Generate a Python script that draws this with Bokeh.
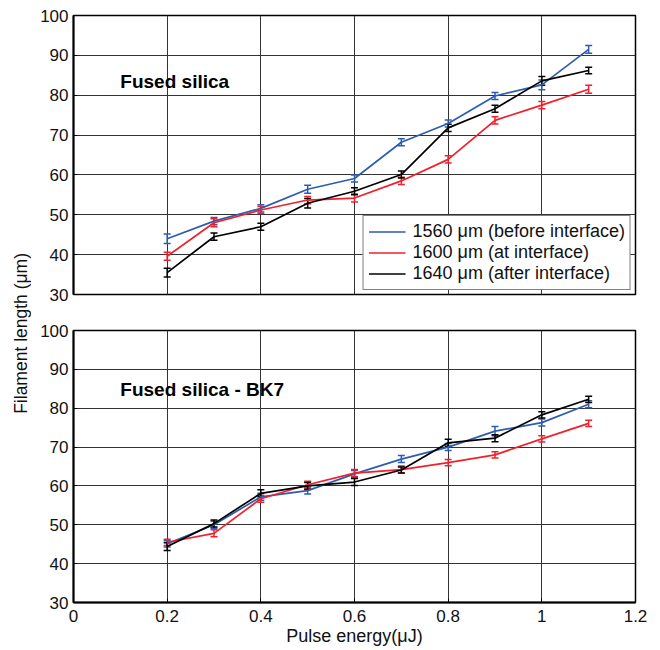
from bokeh.plotting import figure
from bokeh.models import (Whisker, TeeHead, ColumnDataSource, Label, Legend,
                          LegendItem, Div, FixedTicker, Range1d)
from bokeh.layouts import row, column
from bokeh.embed import file_html
from bokeh.resources import INLINE

# ---------------- data ----------------
energy = [0.2, 0.3, 0.4, 0.5, 0.6, 0.7, 0.8, 0.9, 1.0, 1.1]

# Top panel: Fused silica
fs_1560 = [44.0, 48.4, 51.6, 56.4, 59.1, 68.2, 72.9, 79.8, 82.6, 91.5]
fs_1560_err = [1.2, 0.9, 0.9, 1.0, 0.9, 0.9, 0.9, 0.9, 1.2, 1.0]
fs_1600 = [39.6, 48.0, 51.2, 53.7, 54.2, 58.5, 63.9, 73.7, 77.5, 81.5]
fs_1600_err = [1.0, 1.0, 0.9, 0.9, 1.0, 0.9, 0.9, 0.9, 0.9, 1.0]
fs_1640 = [35.5, 44.5, 47.0, 52.9, 55.9, 60.1, 71.8, 76.6, 83.6, 86.2]
fs_1640_err = [1.1, 0.9, 0.9, 1.2, 0.9, 0.9, 0.9, 0.9, 1.1, 0.8]

# Bottom panel: Fused silica - BK7
bk_1560 = [45.1, 50.0, 57.2, 58.8, 63.1, 66.9, 70.0, 74.1, 76.3, 81.0]
bk_1560_err = [0.8, 0.9, 0.9, 0.9, 0.9, 0.9, 0.9, 1.2, 0.9, 0.9]
bk_1600 = [45.5, 47.8, 56.7, 60.3, 63.3, 64.2, 66.0, 68.0, 72.1, 76.1]
bk_1600_err = [0.8, 0.9, 0.9, 0.9, 0.9, 0.9, 0.8, 0.8, 0.8, 0.8]
bk_1640 = [44.4, 50.3, 58.1, 60.0, 61.0, 64.1, 71.1, 72.3, 78.3, 82.3]
bk_1640_err = [1.0, 0.9, 0.9, 0.9, 0.9, 0.8, 0.9, 0.9, 0.8, 0.8]

series_labels = ["1560 \u03bcm (before interface)",
                 "1600 \u03bcm (at interface)",
                 "1640 \u03bcm (after interface)"]
series_colors = ["#2c5db0", "#f0202c", "#000000"]

x_ticks = [0, 0.2, 0.4, 0.6, 0.8, 1, 1.2]
x_tick_labels = ["0", "0.2", "0.4", "0.6", "0.8", "1", "1.2"]
y_ticks = [30, 40, 50, 60, 70, 80, 90, 100]
y_tick_labels = ["30", "40", "50", "60", "70", "80", "90", "100"]

panel_titles = ["Fused silica", "Fused silica - BK7"]
x_label = "Pulse energy(\u03bcJ)"
y_label = "Filament length (\u03bcm)"

FONT = "Liberation Sans"


def make_panel(series, errs, title, title_y, height, top_b, bottom_b, show_x):
    p = figure(width=619, height=height, output_backend="svg",
               toolbar_location=None,
               x_range=Range1d(0, 1.2), y_range=Range1d(30, 100),
               min_border_left=38, min_border_right=19,
               min_border_top=top_b, min_border_bottom=bottom_b)
    p.background_fill_color = "white"
    p.border_fill_color = "white"
    p.outline_line_color = "black"
    p.outline_line_width = 1.5

    p.xaxis.ticker = FixedTicker(ticks=x_ticks)
    p.yaxis.ticker = FixedTicker(ticks=y_ticks)
    p.xaxis.major_label_overrides = dict(zip(x_ticks, x_tick_labels))
    p.yaxis.major_label_overrides = dict(zip(y_ticks, y_tick_labels))
    for ax in (p.xaxis, p.yaxis):
        ax.axis_line_width = 2
        ax.axis_line_color = "black"
        ax.major_tick_in = 4
        ax.major_tick_out = 0
        ax.minor_tick_line_color = None
        ax.major_tick_line_color = "black"
        ax.major_label_text_font = FONT
        ax.major_label_text_font_size = "17px"
        ax.major_label_text_color = "#111111"
    p.yaxis.major_label_standoff = 5
    if show_x:
        p.xaxis.major_label_standoff = 7
        p.xaxis.axis_label = x_label
        p.xaxis.axis_label_standoff = 1
        p.xaxis.axis_label_text_font = FONT
        p.xaxis.axis_label_text_font_size = "18px"
        p.xaxis.axis_label_text_font_style = "normal"
        p.xaxis.axis_label_text_color = "#111111"
    else:
        p.xaxis.visible = False

    p.grid.grid_line_color = "#333333"
    p.grid.grid_line_width = 1
    p.xgrid.ticker = FixedTicker(ticks=x_ticks)
    p.ygrid.ticker = FixedTicker(ticks=y_ticks)

    lines = []
    for vals, err, col in zip(series, errs, series_colors):
        src = ColumnDataSource(dict(
            x=energy, y=vals,
            upper=[v + e for v, e in zip(vals, err)],
            lower=[v - e for v, e in zip(vals, err)]))
        r = p.line("x", "y", source=src, line_color=col, line_width=1.7)
        w = Whisker(base="x", upper="upper", lower="lower", source=src,
                    line_color=col, line_width=1.5,
                    upper_head=TeeHead(size=7, line_color=col, line_width=1.5),
                    lower_head=TeeHead(size=7, line_color=col, line_width=1.5))
        p.add_layout(w)
        lines.append(r)

    p.add_layout(Label(x=0.1, y=title_y, text=title, text_font=FONT,
                       text_font_size="19px", text_font_style="bold",
                       text_baseline="middle", text_color="black"))
    return p, lines


p1, lines1 = make_panel([fs_1560, fs_1600, fs_1640],
                        [fs_1560_err, fs_1600_err, fs_1640_err],
                        panel_titles[0], 83.4, 309, 15, 15, False)
p2, lines2 = make_panel([bk_1560, bk_1600, bk_1640],
                        [bk_1560_err, bk_1600_err, bk_1640_err],
                        panel_titles[1], 84.8, 340, 21, 47, True)

legend = Legend(items=[LegendItem(label=lab, renderers=[r])
                       for lab, r in zip(series_labels, lines1)],
                location="bottom_right")
legend.border_line_color = "black"
legend.border_line_width = 1.5
legend.background_fill_color = "white"
legend.background_fill_alpha = 1
legend.label_text_font = FONT
legend.label_text_font_size = "18px"
legend.label_text_color = "#111111"
legend.glyph_width = 37
legend.glyph_height = 21
legend.label_height = 21
legend.spacing = 0
legend.padding = 5
legend.margin = 4
legend.label_standoff = 7
p1.add_layout(legend)

ylab = Div(text=('<div style="height:649px;width:25px;display:flex;'
                 'align-items:center;justify-content:center;">'
                 '<span style="writing-mode:vertical-rl;transform:rotate(180deg);'
                 "position:relative;left:4px;top:4px;"
                 "font-family:'Liberation Sans';font-size:17.5px;color:#111;"
                 'white-space:nowrap;">' + y_label + '</span></div>'),
           width=25, height=649)

layout = row(ylab, column(p1, p2))

open("out.html", "w").write(file_html(layout, INLINE))
